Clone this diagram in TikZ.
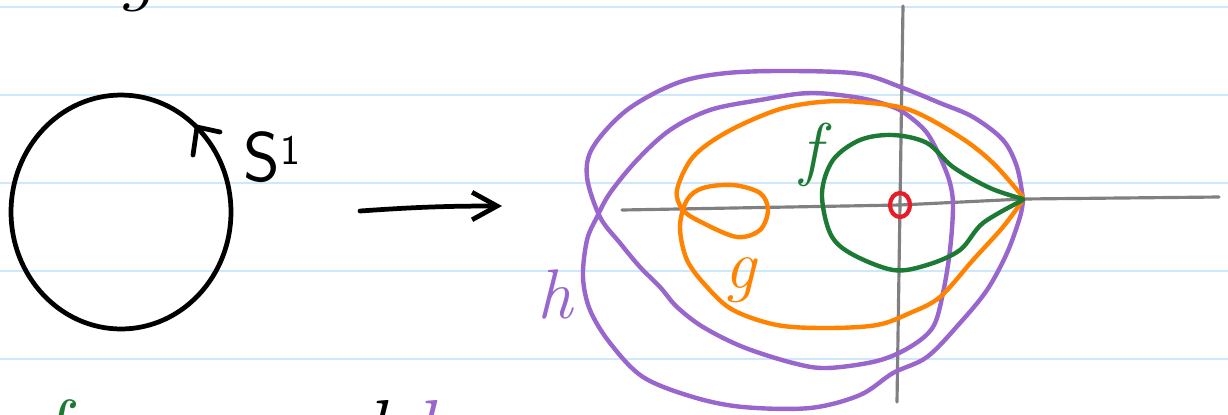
\documentclass[tikz,border=0pt]{standalone}
\usepackage{fontspec}
\usetikzlibrary{arrows.meta,shapes.geometric}
\definecolor{rulecol}{RGB}{204,232,250}
\definecolor{hpurple}{RGB}{152,102,204}
\definecolor{gorange}{RGB}{255,130,0}
\definecolor{fgreen}{RGB}{28,122,52}
\definecolor{axisgray}{RGB}{128,128,128}
\definecolor{zred}{RGB}{232,28,40}
\begin{document}
\begin{tikzpicture}[x=0.02cm,y=-0.02cm,
  curve/.style={line width=2.5pt, line cap=round, line join=round},
  axisline/.style={axisgray, line width=1.8pt, line cap=round},
  ink/.style={black, line width=2.7pt, line cap=round, line join=round},
  lbl/.style={inner sep=0pt, font=\fontsize{40}{40}\selectfont\itshape},
  bigtext/.style={inner sep=0pt, anchor=base west, font=\fontsize{46}{46}\selectfont\itshape}]
\useasboundingbox (0,0) rectangle (1228,414);
\clip (0,0) rectangle (1228,414);
\fill[white] (0,0) rectangle (1228,414);
\foreach \yy in {7,95,183,271,359} \draw[rulecol, line width=1.1pt] (0,\yy) -- (1228,\yy);

% partial handwritten lines cut by the page edge
\node[bigtext] (toptext) at (-10,-5) {images the same};
\node[bigtext] (bottext) at (40,456) {\textcolor{fgreen}{f} or \textcolor{gorange}{g} and \textcolor{hpurple}{h}};

% the circle S^1
\node[ellipse, draw, line width=2.7pt, minimum width=4.4cm, minimum height=4.68cm, inner sep=0pt] (S) at (121,212) {};
\coordinate (arrA) at (193,155);
\coordinate (arrT) at (197,127);
\coordinate (arrB) at (220,132);
\draw[ink] (arrA) -- (arrT) -- (arrB);
\node[inner sep=0pt, font=\fontsize{40}{40}\selectfont\sffamily] (Slabel) at (272,157) {S\raisebox{0.55ex}{\fontsize{24}{24}\selectfont 1}};

% map arrow
\coordinate (m0) at (360,211);
\coordinate (m1) at (502,206);
\draw[ink, -{Straight Barb[length=5mm, width=5.5mm]}] (m0) to[bend left=2] (m1);

% axes
\coordinate (xl) at (622,210);
\coordinate (O) at (900,205);
\coordinate (P) at (1023,199);
\coordinate (xr) at (1219,197);
\coordinate (yt) at (903,6);
\coordinate (yb) at (897,402);
\draw[axisline] (xl) -- (O) -- (P) -- (xr);
\draw[axisline] (yt) -- (O) -- (yb);

% red origin mark
\node[ellipse, draw=zred, line width=2.4pt, minimum width=0.4cm, minimum height=0.48cm, inner sep=0pt] (zero) at (O) {};

% h (purple, winds twice)
\draw[curve, hpurple] plot[smooth, tension=0.55] coordinates {
 (1023,199) (1017,167) (1003,140) (973,117) (940,103) (903,88) (860,74)
 (793,71) (727,73) (677,83) (627,110) (593,147) (587,177) (600,217)
 (620,243) (640,267) (660,287) (677,307) (703,327) (743,347) (793,363)
 (827,368) (877,361) (910,347) (933,327) (943,293) (950,250) (953,207)
 (950,183) (940,157) (927,133) (910,117) (893,107) (860,98) (810,93)
 (760,100) (710,110) (670,130) (637,160) (610,193) (597,217) (587,240)
 (583,277) (590,310) (610,343) (643,377) (693,397) (743,407) (810,408)
 (860,395) (893,373) (927,357) (960,323) (987,290) (1007,253) (1020,217) (1023,200)};

% g (orange, small loop)
\draw[curve, gorange] plot[smooth, tension=0.55] coordinates {
 (1023,197) (993,163) (960,137) (910,110) (860,102) (820,102) (777,110)
 (727,132) (693,157) (677,190) (683,210) (703,223) (737,237) (760,230)
 (768,210) (760,193) (733,185) (703,188) (687,200) (680,227) (687,260)
 (707,287) (733,310) (777,325) (827,328) (877,325) (910,313) (940,297)
 (973,260) (1003,227) (1023,200)};

% f (green)
\draw[curve, fgreen] plot[smooth, tension=0.55] coordinates {
 (1023,199) (990,188) (953,167) (927,143) (893,135) (860,140) (833,160)
 (822,193) (830,233) (850,253) (893,270) (927,265) (960,250) (983,223) (1023,200)};

% labels
\node[lbl, text=fgreen] (flab) at (811,155) {f};
\node[lbl, text=gorange] (glab) at (740,280) {g};
\node[lbl, text=hpurple] (hlab) at (555,294) {h};
\end{tikzpicture}
\end{document}
